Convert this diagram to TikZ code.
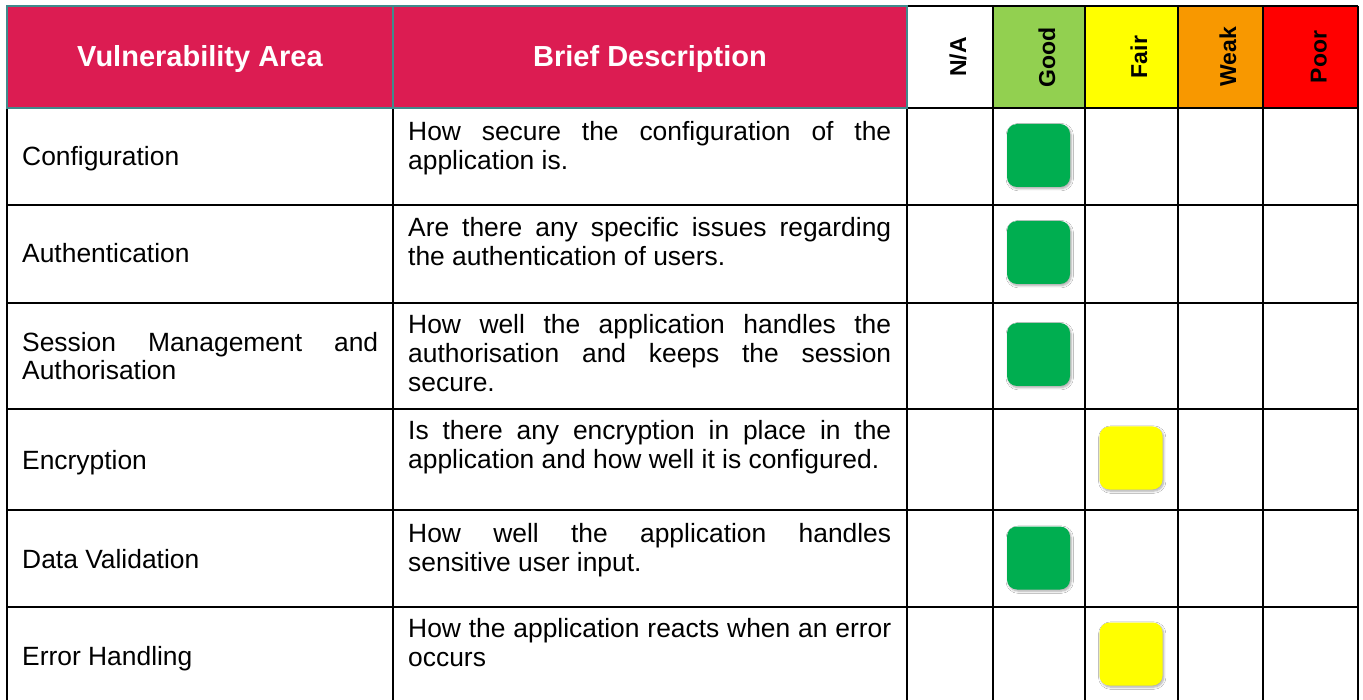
\documentclass[tikz,border=0pt]{standalone}
\usepackage{fontspec}
\setmainfont{Liberation Sans}
\usetikzlibrary{shadows.blur}

\definecolor{hdrred}{HTML}{DC1C52}
\definecolor{hdrline}{HTML}{3F8A8C}
\definecolor{goodhdr}{HTML}{92D050}
\definecolor{fairhdr}{HTML}{FFFF00}
\definecolor{weakhdr}{HTML}{F89800}
\definecolor{poorhdr}{HTML}{FF0000}
\definecolor{badgegreen}{HTML}{00AE50}
\definecolor{badgeyellow}{HTML}{FFFF00}

\begin{document}
\begin{tikzpicture}[x=1pt,y=-1pt,
  tableline/.style={line width=1.8pt, black},
  hdrborder/.style={line width=1.4pt, hdrline},
  hdrtext/.style={font=\fontsize{29}{33}\selectfont\bfseries, text=white, inner sep=0pt, anchor=base},
  rating/.style={font=\fontsize{23}{26}\selectfont\bfseries, rotate=90, anchor=base, inner sep=0pt},
  celltext/.style={font=\fontsize{26.4}{29}\selectfont, anchor=base west, inner sep=0pt},
  badge/.style={rounded corners=10pt, minimum width=63pt, minimum height=63pt, inner sep=0pt,
    blur shadow={shadow xshift=1.2pt, shadow yshift=-1.6pt, shadow blur radius=2.2pt,
                 shadow blur steps=6, shadow opacity=35}},
]
\useasboundingbox (0,0) rectangle (1363,700);
\fill[white] (0,0) rectangle (1363,700);
\clip (0,0) rectangle (1363,700);

% header cells
\fill[hdrred] (7,6) rectangle (907,108);
\fill[white] (907,6) rectangle (993,108);
\fill[goodhdr] (993,6) rectangle (1085,108);
\fill[fairhdr] (1085,6) rectangle (1178,108);
\fill[weakhdr] (1178,6) rectangle (1263,108);
\fill[poorhdr] (1263,6) rectangle (1358,108);

% body grid
\foreach \yy in {108,205,303,409,510,607,705}
  \draw[tableline] (7,\yy) -- (1358,\yy);
\foreach \xx in {7,393,907,993,1085,1178,1263,1358}
  \draw[tableline] (\xx,108) -- (\xx,705);
% rating header borders
\draw[tableline] (907,6) -- (1358,6);
\foreach \xx in {993,1085,1178,1263,1358}
  \draw[tableline] (\xx,6) -- (\xx,108);
% title header borders
\draw[hdrborder] (7,6) rectangle (907,108);
\draw[hdrborder] (393,6) -- (393,108);

% header labels
\node[hdrtext] (hArea) at (200,67) {Vulnerability Area};
\node[hdrtext] (hDesc) at (650,67) {Brief Description};
\node[rating] (hNA)   at (966,57)    {N/A};
\node[rating] (hGood) at (1055,57)   {Good};
\node[rating] (hFair) at (1147,57)   {Fair};
\node[rating] (hWeak) at (1236,57)   {Weak};
\node[rating] (hPoor) at (1326.5,57) {Poor};

% vulnerability areas
\node[celltext] (a1)  at (22,166) {Configuration};
\node[celltext] (a2)  at (22,263) {Authentication};
\node[celltext] (a3a) at (22,352) {\makebox[356pt][s]{Session Management and}};
\node[celltext] (a3b) at (22,380) {Authorisation};
\node[celltext] (a4)  at (22,469) {Encryption};
\node[celltext] (a5)  at (22,568) {Data Validation};
\node[celltext] (a6)  at (22,665) {Error Handling};

% descriptions
\node[celltext] (d1a) at (408,141) {\makebox[483pt][s]{How secure the configuration of the}};
\node[celltext] (d1b) at (408,170) {application is.};
\node[celltext] (d2a) at (408,237) {\makebox[483pt][s]{Are there any specific issues regarding}};
\node[celltext] (d2b) at (408,266) {the authentication of users.};
\node[celltext] (d3a) at (408,334) {\makebox[483pt][s]{How well the application handles the}};
\node[celltext] (d3b) at (408,363) {\makebox[483pt][s]{authorisation and keeps the session}};
\node[celltext] (d3c) at (408,392) {secure.};
\node[celltext] (d4a) at (408,439) {\makebox[483pt][s]{Is there any encryption in place in the}};
\node[celltext] (d4b) at (408,468) {application and how well it is configured.};
\node[celltext] (d5a) at (408,542) {\makebox[483pt][s]{How well the application handles}};
\node[celltext] (d5b) at (408,571) {sensitive user input.};
\node[celltext] (d6a) at (408,637) {\makebox[483pt][s]{How the application reacts when an error}};
\node[celltext] (d6b) at (408,666) {occurs};

% ratings
\node[badge, fill=badgegreen]  (r1) at (1038.5,155.5) {};
\node[badge, fill=badgegreen]  (r2) at (1038.5,252.5) {};
\node[badge, fill=badgegreen]  (r3) at (1038.5,354.5) {};
\node[badge, fill=badgeyellow] (r4) at (1131,458) {};
\node[badge, fill=badgegreen]  (r5) at (1038.5,558) {};
\node[badge, fill=badgeyellow] (r6) at (1131,654) {};
\end{tikzpicture}
\end{document}
